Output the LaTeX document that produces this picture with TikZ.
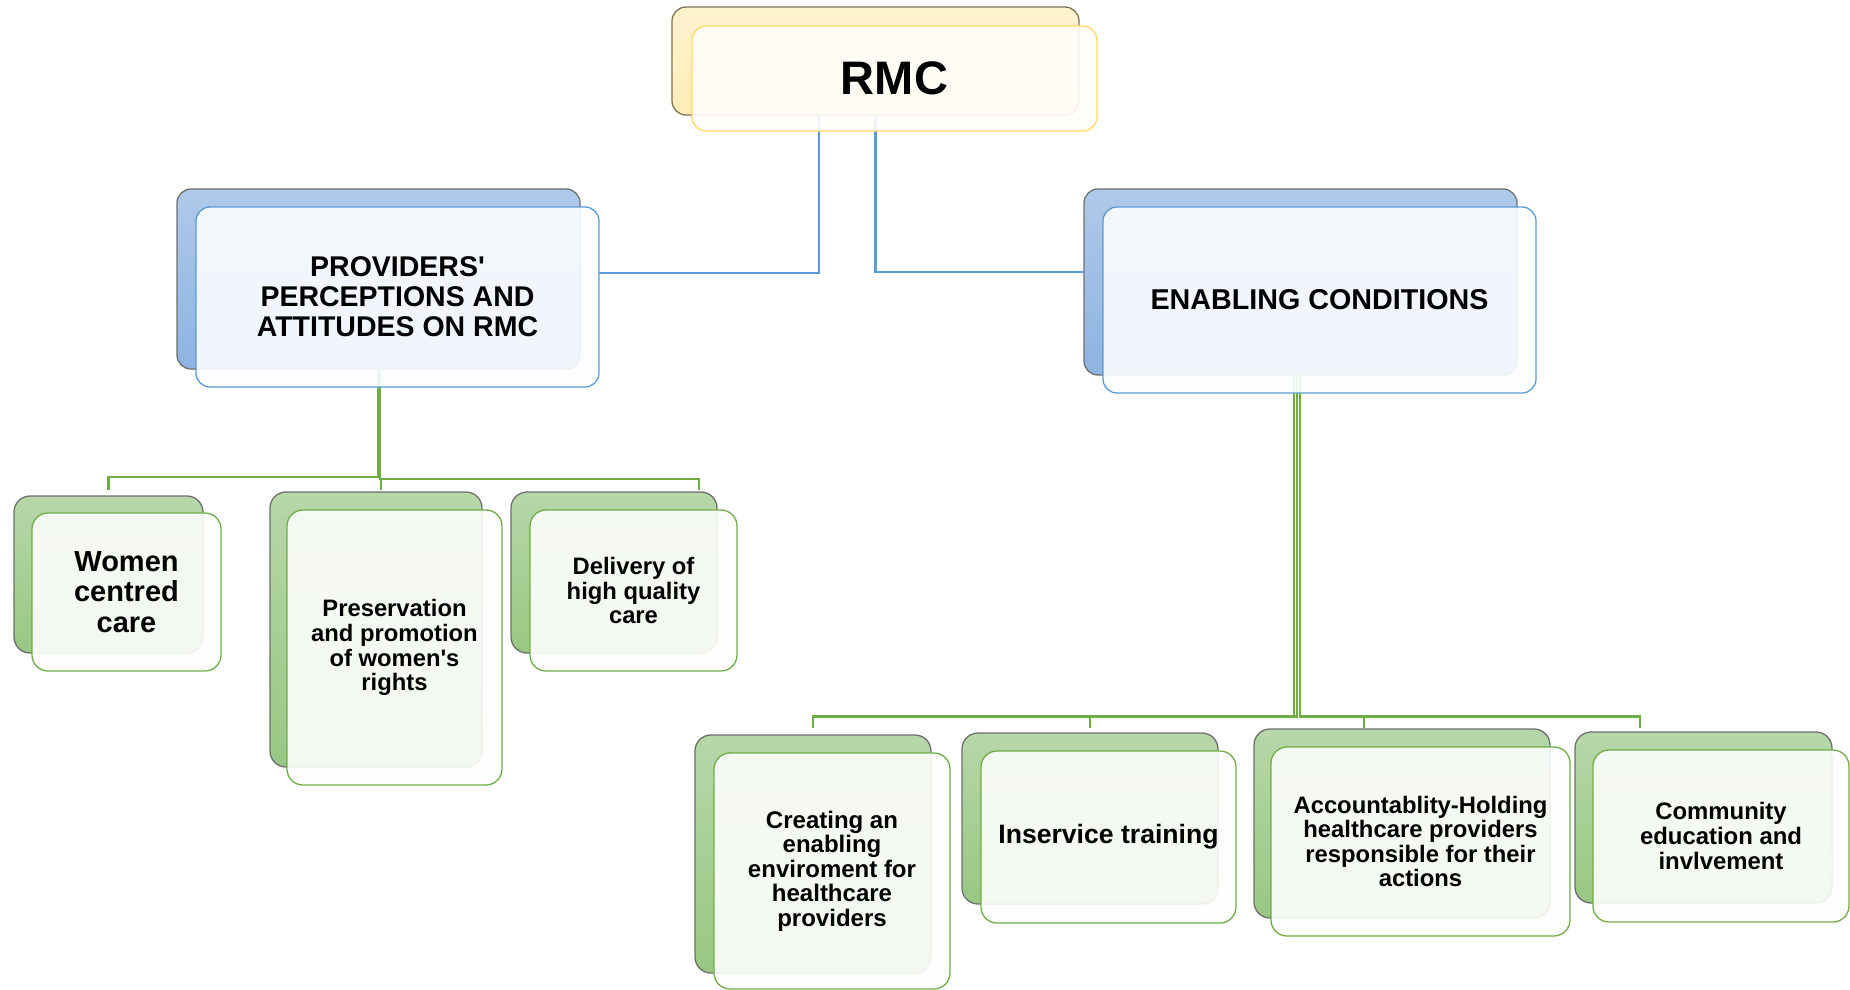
\documentclass[tikz,border=0pt]{standalone}
\usepackage{fontspec}
\setmainfont{Liberation Sans}
\usetikzlibrary{calc}
\definecolor{ytop}{HTML}{FFF3CF}
\definecolor{ybot}{HTML}{FFEDB8}
\definecolor{yedge}{HTML}{7D7458}
\definecolor{yfill}{HTML}{FFFEFB}
\definecolor{yline}{HTML}{FFD966}
\definecolor{btop}{HTML}{AFC9E9}
\definecolor{bbot}{HTML}{8DB3E2}
\definecolor{bfill}{HTML}{FCFDFF}
\definecolor{bline}{HTML}{5B9BD5}
\definecolor{gtop}{HTML}{B7D7A9}
\definecolor{gbot}{HTML}{98C783}
\definecolor{gfill}{HTML}{FDFEFC}
\definecolor{gline}{HTML}{70AD47}
\definecolor{edgegray}{HTML}{6E6E6E}
\pgfdeclarelayer{backl}
\pgfdeclarelayer{linesl}
\pgfsetlayers{backl,linesl,main}
\begin{document}
\begin{tikzpicture}[x=1pt,y=-1pt,
  backbase/.style={rounded corners=14pt, inner sep=0pt, outer sep=0pt, line width=1.3pt, draw=edgegray},
  ybk/.style={backbase, top color=ytop, bottom color=ybot, draw=yedge},
  bbk/.style={backbase, top color=btop, bottom color=bbot},
  gbk/.style={backbase, top color=gtop, bottom color=gbot, rounded corners=16pt},
  frontbase/.style={rounded corners=14pt, inner sep=0pt, outer sep=0pt, line width=1.3pt, fill opacity=0.9, text opacity=1, align=center, font=\bfseries},
  yfr/.style={frontbase, fill=yfill, draw=yline},
  bfr/.style={frontbase, fill=bfill, draw=bline},
  gfr/.style={frontbase, fill=gfill, draw=gline, rounded corners=16pt},
  blueline/.style={draw=bline, line width=2.5pt},
  greenline/.style={draw=gline, line width=2.5pt}
]
\useasboundingbox (0,0) rectangle (1850,990);

% back boxes
\begin{pgfonlayer}{backl}
\node[ybk, minimum width=407pt, minimum height=108pt] (rmcb) at (875.5,61) {};
\node[bbk, minimum width=403pt, minimum height=180pt] (provb) at (378.5,279) {};
\node[bbk, minimum width=433pt, minimum height=186pt] (enb) at (1300.5,282) {};
\node[gbk, minimum width=189pt, minimum height=157pt] (womb) at (108.5,574.5) {};
\node[gbk, minimum width=212pt, minimum height=275pt] (presb) at (376,629.5) {};
\node[gbk, minimum width=206pt, minimum height=161pt] (delb) at (614,572.5) {};
\node[gbk, minimum width=236pt, minimum height=238pt] (creb) at (813,854) {};
\node[gbk, minimum width=256pt, minimum height=171pt] (insb) at (1090,818.5) {};
\node[gbk, minimum width=296pt, minimum height=189pt] (accb) at (1402,823.5) {};
\node[gbk, minimum width=257pt, minimum height=171pt] (comb) at (1703.5,817.5) {};
\end{pgfonlayer}

% front boxes
\node[yfr, minimum width=405pt, minimum height=105pt, font=\bfseries\fontsize{47}{50}\selectfont] (rmcf) at (894.5,78.5) {RMC};
\node[bfr, minimum width=403pt, minimum height=180pt, font=\bfseries\fontsize{28.5}{30}\selectfont] (provf) at (397.5,297) {PROVIDERS\textquotesingle\\PERCEPTIONS AND\\ATTITUDES ON RMC};
\node[bfr, minimum width=433pt, minimum height=186pt, font=\bfseries\fontsize{28.7}{30}\selectfont] (enf) at (1319.5,300) {ENABLING CONDITIONS};
\node[gfr, minimum width=189pt, minimum height=158pt, font=\bfseries\fontsize{29}{30.5}\selectfont] (womf) at (126.5,592) {Women\\centred\\care};
\node[gfr, minimum width=215pt, minimum height=275pt, font=\bfseries\fontsize{23.8}{24.8}\selectfont] (presf) at (394.5,647.5) {Preservation\\and promotion\\of women\textquotesingle s\\rights};
\node[gfr, minimum width=207pt, minimum height=161pt, font=\bfseries\fontsize{23.8}{24.8}\selectfont] (delf) at (633.5,590.5) {Delivery of\\high quality\\care};
\node[gfr, minimum width=236pt, minimum height=236pt, font=\bfseries\fontsize{24}{24.6}\selectfont] (cref) at (832,871) {Creating an\\enabling\\enviroment for\\healthcare\\providers};
\node[gfr, minimum width=255pt, minimum height=172pt, font=\bfseries\fontsize{26.6}{28}\selectfont] (insf) at (1108.5,837) {Inservice training};
\node[gfr, minimum width=299pt, minimum height=189pt, font=\bfseries\fontsize{23.8}{24.6}\selectfont] (accf) at (1420.5,841.5) {Accountablity-Holding\\healthcare providers\\responsible for their\\actions};
\node[gfr, minimum width=256pt, minimum height=172pt, font=\bfseries\fontsize{23.9}{24.6}\selectfont] (comf) at (1721,836) {Community\\education and\\invlvement};

% connectors
\begin{pgfonlayer}{linesl}
\draw[blueline] ([xshift=-56.5pt]rmcb.south) |- ([yshift=24pt]provf.east);
\draw[blueline] (rmcb.south) |- ([yshift=10pt]enb.west);

\coordinate (lbar) at (0,477);
\coordinate (d1) at ([yshift=6pt]womb.north);
\coordinate (d2) at ([xshift=5pt,yshift=2pt]presb.north);
\coordinate (d3) at ([xshift=85pt,yshift=2pt]delb.north);
\draw[greenline] (provb.south) |- (lbar -| d1) -- (d1);
\draw[greenline] ([xshift=1.5pt]provb.south) |- ([yshift=-2pt]lbar -| d2) -- (d2);
\draw[greenline] ([xshift=1.5pt]provb.south) |- ([yshift=-2pt]lbar -| d3) -- (d3);

\coordinate (rbar) at (0,716.5);
\coordinate (e1) at ([yshift=7pt]creb.north);
\coordinate (e2) at ([yshift=5pt]insb.north);
\coordinate (e3) at ([xshift=-38pt,yshift=1pt]accb.north);
\coordinate (e4) at ([xshift=-63.5pt,yshift=4pt]comb.north);
\draw[greenline] ([xshift=-6.5pt]enb.south) |- (rbar -| e1) -- (e1);
\draw[greenline] ([xshift=-3.5pt]enb.south) |- (rbar -| e2) -- (e2);
\draw[greenline] ([xshift=-0.5pt]enb.south) |- (rbar -| e3) -- (e3);
\draw[greenline] ([xshift=-0.5pt]enb.south) |- (rbar -| e4) -- (e4);
\end{pgfonlayer}
\end{tikzpicture}
\end{document}
